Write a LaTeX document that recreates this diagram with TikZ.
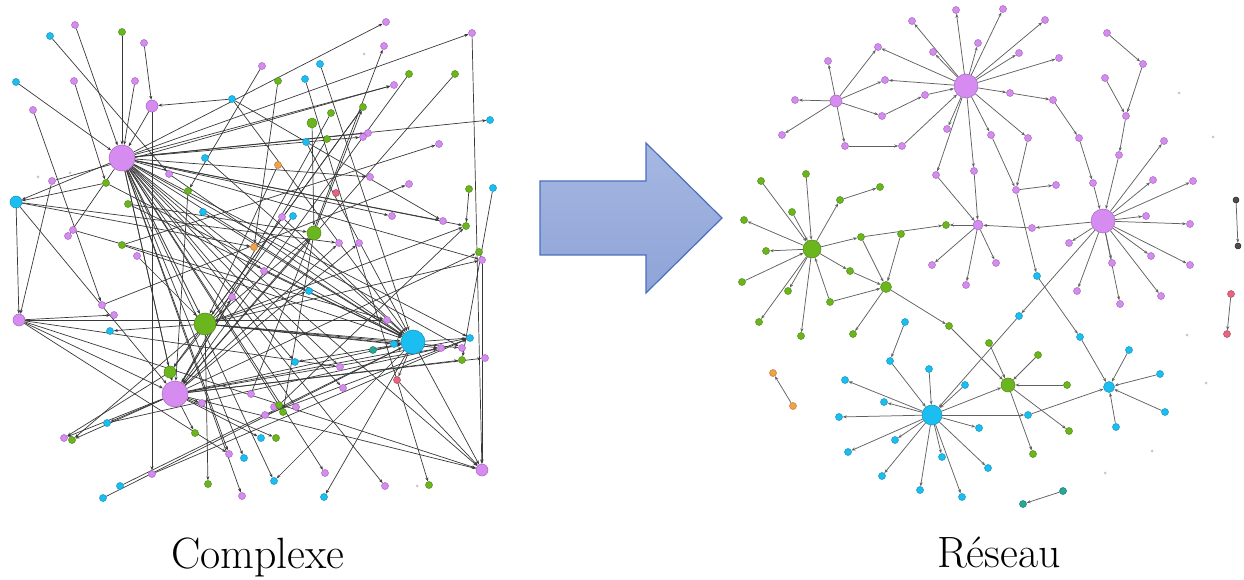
\documentclass[tikz,border=0pt]{standalone}
\usetikzlibrary{arrows.meta}
\definecolor{vioF}{HTML}{D68BF0}
\definecolor{vioD}{HTML}{A466BC}
\definecolor{grnF}{HTML}{6BB51E}
\definecolor{grnD}{HTML}{4E8A12}
\definecolor{cynF}{HTML}{1BBEF0}
\definecolor{cynD}{HTML}{1690BE}
\definecolor{orgF}{HTML}{F0A24A}
\definecolor{orgD}{HTML}{C47A2A}
\definecolor{pnkF}{HTML}{E4677F}
\definecolor{pnkD}{HTML}{B04560}
\definecolor{telF}{HTML}{27A796}
\definecolor{telD}{HTML}{1A7A6C}
\definecolor{arrFa}{HTML}{A6B8E2}
\definecolor{arrFb}{HTML}{8EA3D7}
\definecolor{arrD}{HTML}{4A6FBF}
\pgfdeclarelayer{bg}
\pgfsetlayers{bg,main}
\begin{document}
\begin{tikzpicture}[x=1bp,y=-1bp,
  nd/.style={circle,inner sep=0pt,minimum size=#1,line width=0.5bp},
  vio/.style={nd=#1,fill=vioF,draw=vioD}, vio/.default=7bp,
  grn/.style={nd=#1,fill=grnF,draw=grnD}, grn/.default=7bp,
  cyn/.style={nd=#1,fill=cynF,draw=cynD}, cyn/.default=7bp,
  org/.style={nd=7bp,fill=orgF,draw=orgD},
  pnk/.style={nd=7bp,fill=pnkF,draw=pnkD},
  tel/.style={nd=7bp,fill=telF,draw=telD},
  blk/.style={nd=6bp,fill=black!70,draw=black!85},
  gry/.style={circle,inner sep=0pt,minimum size=3bp,fill=black!22},
  ed/.style={draw=black!78,line width=0.7bp,-{Stealth[length=4bp,width=3bp]}},
  edr/.style={draw=black!62,line width=0.75bp,-{Stealth[length=4bp,width=3bp]}},
  lbl/.style={font=\fontsize{44}{52}\selectfont,anchor=base,inner sep=0pt}]
\useasboundingbox (0,0) rectangle (1244,580);

% ---------------- left graph: nodes ----------------
\foreach \x/\y in {75/25,144/43,74/81,135/81,33/110,169/174,52/181,73/230,68/236,262/66,386/22,472/33,384/46,394/85,368/133,363/137,439/144,370/177,409/184,392/216,282/217,443/221,339/243,359/243,137/256,102/305,114/315,232/297,202/403,64/438,229/454,152/474,242/496,482/260,264/271,387/320,441/348,462/348,340/367,343/388,485/358,251/394,274/407,265/415,296/407,325/473,385/486}
  \node[vio] (n\x-\y) at (\x,\y) {};
\foreach \x/\y/\s in {152/106/12,19/320/12,482/470/12,122/158/26,175/394/26}
  \node[vio=\s bp] (n\x-\y) at (\x,\y) {};
\foreach \x/\y in {50/36,16/82,232/99,205/158,203/212,320/64,305/79,490/120,306/142,293/216,493/188,110/331,107/423,244/458,120/486,103/498,309/291,470/338,394/344,295/362,261/438,274/481,324/497}
  \node[cyn] (n\x-\y) at (\x,\y) {};
\foreach \x/\y/\s in {16/202/12,413/342/24}
  \node[cyn=\s bp] (n\x-\y) at (\x,\y) {};
\foreach \x/\y in {122/32,106/183,188/191,128/204,122/245,278/81,409/74,455/74,363/107,331/113,327/139,469/189,466/226,72/440,195/433,208/484,479/252,462/360,279/405,283/412,276/438,429/485}
  \node[grn] (n\x-\y) at (\x,\y) {};
\foreach \x/\y/\s in {312/123/10,170/372/12,314/233/14,205/324/22}
  \node[grn=\s bp] (n\x-\y) at (\x,\y) {};
\foreach \x/\y in {278/165,254/247} \node[org] (n\x-\y) at (\x,\y) {};
\foreach \x/\y in {336/193,397/380} \node[pnk] (n\x-\y) at (\x,\y) {};
\node[tel] (n373-350) at (373,350) {};
\foreach \x/\y in {364/54,38/177,70/173,417/486} \node[gry] (g\x-\y) at (\x,\y) {};

% ---------------- right graph: nodes ----------------
\foreach \x/\y in {956/10,912/21,878/47,978/43,933/52,885/80,828/61,795/100,782/135,882/116,845/146,902/146,925/95,947/129,991/135,936/175,974/171,1003/9,1045/20,1019/53,1059/58,1107/33,1143/64,1105/78,1126/116,1010/93,1053/100,1079/138,1028/138,1119/155,1164/141,1016/190,1056/185,1093/183,1153/180,1193/181,1146/216,1190/224,1032/228,1069/243,1151/256,1190/265,1161/296,1120/304,1112/263,1077/291,996/263,932/265,966/285}
  \node[vio] (n\x-\y) at (\x,\y) {};
\foreach \x/\y/\s in {836/101/12,978/225/10,966/86/24,1103/221/24}
  \node[vio=\s bp] (n\x-\y) at (\x,\y) {};
\foreach \x/\y in {761/181,806/174,880/187,840/200,792/212,744/220,766/251,861/237,901/234,946/225,742/282,788/291,759/322,801/336,830/302,850/271,853/334,949/326,989/343,1038/355,1067/385,1069/431,1033/454}
  \node[grn] (n\x-\y) at (\x,\y) {};
\foreach \x/\y/\s in {886/287/11,1008/385/14,812/249/18}
  \node[grn=\s bp] (n\x-\y) at (\x,\y) {};
\foreach \x/\y in {1037/276,1019/316,1080/337,1129/350,1160/374,1165/412,1116/427,1028/415,988/468,905/322,890/361,845/380,929/369,884/402,839/417,965/385,895/440,979/428,848/452,942/457,882/476,920/490,962/497}
  \node[cyn] (n\x-\y) at (\x,\y) {};
\foreach \x/\y/\s in {1109/387/11,932/415/20}
  \node[cyn=\s bp] (n\x-\y) at (\x,\y) {};
\foreach \x/\y in {1063/491,1023/504} \node[tel] (n\x-\y) at (\x,\y) {};
\foreach \x/\y in {1231/294,1227/334} \node[pnk] (n\x-\y) at (\x,\y) {};
\foreach \x/\y in {773/373,793/406} \node[org] (n\x-\y) at (\x,\y) {};
\foreach \x/\y in {1236/200,1238/246} \node[blk] (n\x-\y) at (\x,\y) {};
\foreach \x/\y in {1179/93,1213/137,1187/335,1206/383,1152/451,1105/473} \node[gry] (g\x-\y) at (\x,\y) {};

% ---------------- edges ----------------
\begin{pgfonlayer}{bg}
\foreach \a/\b in {75-25/122-158,16-82/122-158,122-32/122-158,135-81/122-158,152-106/122-158,
 122-158/386-22,122-158/472-33,122-158/394-85,122-158/490-120,122-158/363-137,122-158/370-177,122-158/392-216,122-158/466-226,122-158/482-260,122-158/413-342,122-158/462-348,122-158/470-338,122-158/343-388,122-158/340-367,122-158/296-407,122-158/283-412,122-158/274-481,122-158/229-454,122-158/242-496,122-158/175-394,122-158/205-324,122-158/16-202,122-158/264-271,122-158/325-473,122-158/385-486,122-158/482-470,122-158/295-362,122-158/170-372,122-158/244-458,122-158/68-236,122-158/368-133,122-158/443-221,
 455-74/175-394,409-74/175-394,331-113/175-394,327-139/175-394,19-320/175-394,16-202/175-394,
 175-394/64-438,175-394/72-440,175-394/413-342,175-394/482-470,175-394/462-360,175-394/441-348,175-394/485-358,175-394/479-252,175-394/195-433,175-394/202-403,175-394/359-243,175-394/339-243,175-394/232-297,175-394/107-423,175-394/314-233,175-394/470-338,175-394/261-438,175-394/276-438,
 278-165/205-324,137-256/205-324,205-324/110-331,205-324/208-484,205-324/413-342,205-324/482-260,205-324/441-348,205-324/462-348,205-324/466-226,363-107/205-324,205-324/309-291,205-324/394-344,
 320-64/413-342,306-142/413-342,169-174/413-342,203-212/413-342,282-217/413-342,232-99/413-342,394-344/413-342,373-350/413-342,103-498/413-342,120-486/413-342,122-245/413-342,106-183/413-342,128-204/413-342,205-158/413-342,264-271/413-342,
 413-342/274-481,413-342/324-497,413-342/482-470,413-342/470-338,413-342/295-362,413-342/397-380,
 312-123/314-233,314-233/363-107,128-204/314-233,314-233/283-412,314-233/72-440,
 16-202/19-320,106-183/16-202,16-202/254-247,16-202/339-243,
 52-181/19-320,19-320/387-320,19-320/114-315,19-320/229-454,19-320/340-367,19-320/482-470,
 144-43/152-106,50-36/169-174,74-81/106-183,33-110/102-305,152-106/152-474,232-99/152-106,232-99/443-221,251-394/384-46,363-107/170-372,305-79/429-485,122-245/439-144,102-305/409-184,469-189/466-226,493-188/462-360,472-33/482-470,482-260/482-470,262-66/188-191,278-81/254-247,73-230/387-320,293-216/170-372,170-372/64-438,107-423/441-348,152-474/470-338,188-191/175-394,52-181/394-85,397-380/482-470,279-405/466-226,265-415/470-338}
  \draw[ed] (n\a) -- (n\b);
\foreach \a/\b in {966-86/956-10,966-86/912-21,966-86/878-47,966-86/978-43,966-86/933-52,966-86/885-80,925-95/966-86,882-116/925-95,966-86/947-129,966-86/936-175,966-86/974-171,966-86/991-135,966-86/1028-138,966-86/1003-9,966-86/1045-20,966-86/1019-53,966-86/1059-58,966-86/1010-93,902-146/966-86,
 836-101/828-61,836-101/795-100,836-101/782-135,836-101/878-47,836-101/885-80,836-101/882-116,836-101/845-146,845-146/902-146,
 936-175/978-225,974-171/978-225,978-225/932-265,978-225/966-285,978-225/996-263,978-225/946-225,1032-228/978-225,1103-221/1032-228,
 812-249/861-237,861-237/946-225,901-234/886-287,861-237/886-287,812-249/850-271,850-271/886-287,830-302/812-249,830-302/886-287,
 761-181/812-249,806-174/812-249,792-212/812-249,812-249/744-220,812-249/766-251,812-249/840-200,840-200/880-187,742-282/812-249,812-249/788-291,812-249/759-322,812-249/801-336,
 886-287/853-334,886-287/949-326,949-326/1008-385,
 989-343/1008-385,1038-355/1008-385,1067-385/1008-385,1008-385/1069-431,1008-385/1033-454,932-415/1008-385,
 932-415/1028-415,1028-415/1109-387,1103-221/1019-316,1019-316/932-415,
 1016-190/1037-276,1037-276/1080-337,1080-337/1109-387,
 991-135/1016-190,1028-138/1016-190,1016-190/1056-185,
 1010-93/1053-100,1053-100/1079-138,1079-138/1093-183,1093-183/1103-221,
 1107-33/1143-64,1143-64/1126-116,1105-78/1126-116,1126-116/1119-155,1119-155/1103-221,
 1103-221/1164-141,1103-221/1153-180,1103-221/1193-181,1103-221/1146-216,1103-221/1190-224,1103-221/1151-256,1103-221/1190-265,1103-221/1161-296,1103-221/1120-304,1103-221/1112-263,1103-221/1077-291,1103-221/1069-243,
 1129-350/1109-387,1160-374/1109-387,1165-412/1109-387,1116-427/1109-387,
 905-322/890-361,890-361/932-415,929-369/932-415,965-385/932-415,932-415/845-380,932-415/884-402,932-415/839-417,932-415/895-440,932-415/979-428,932-415/848-452,932-415/942-457,932-415/882-476,932-415/920-490,932-415/962-497,932-415/988-468,
 1063-491/1023-504,1231-294/1227-334,793-406/773-373,1236-200/1238-246}
  \draw[edr] (n\a) -- (n\b);
\end{pgfonlayer}

% ---------------- big arrow ----------------
\shade[top color=arrFa,bottom color=arrFb,draw=arrD,line width=1.2bp,line join=miter]
  (540,181) -- (646,181) -- (646,143) -- (722,218) -- (646,293) -- (646,255) -- (540,255) -- cycle;

% ---------------- labels ----------------
\node[lbl] (lblA) at (258,568) {Complexe};
\node[lbl] (lblB) at (999,567) {Réseau};
\end{tikzpicture}
\end{document}
